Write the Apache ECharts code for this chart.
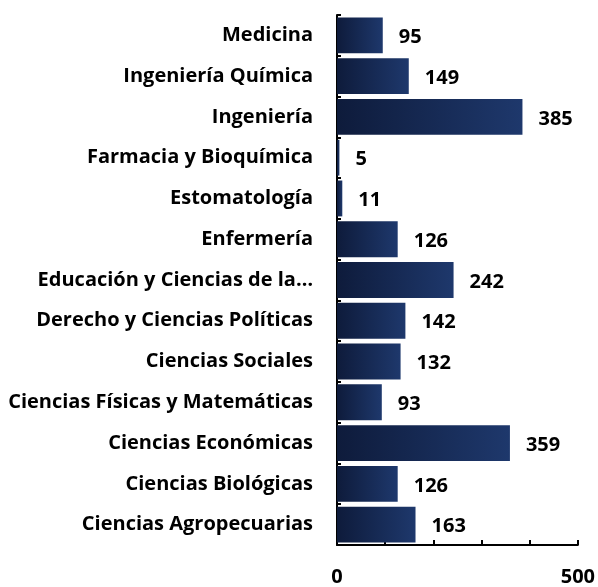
<!DOCTYPE html>
<html>
<head>
<meta charset="utf-8">
<script src="https://cdn.jsdelivr.net/npm/echarts@6/dist/echarts.min.js"></script>
<style>
  html, body { margin: 0; padding: 0; background: #fff; }
  #chart { width: 598px; height: 587px; }
</style>
</head>
<body>
<div id="chart"></div>
<script>
// categories bottom -> top
const categories = [
  'Ciencias Agropecuarias',
  'Ciencias Biológicas',
  'Ciencias Económicas',
  'Ciencias Físicas y Matemáticas',
  'Ciencias Sociales',
  'Derecho y Ciencias Políticas',
  'Educación y Ciencias de la…',
  'Enfermería',
  'Estomatología',
  'Farmacia y Bioquímica',
  'Ingeniería',
  'Ingeniería Química',
  'Medicina'
]
const values = [163, 126, 359, 93, 132, 142, 242, 126, 11, 5, 385, 149, 95]

const chart = echarts.init(document.getElementById('chart'))
const font = '"Open Sans", sans-serif'

chart.setOption({
  animation: false,
  grid: { left: 337, right: 20, top: 15, bottom: 41 },
  xAxis: {
    type: 'value',
    min: 0, max: 500, interval: 100,
    splitLine: { show: false },
    axisLine: { show: true, lineStyle: { color: '#000', width: 2 } },
    axisTick: { show: true, inside: true, length: 5, lineStyle: { color: '#000', width: 2 } },
    axisLabel: {
      margin: 22,
      color: '#000', fontSize: 20, fontWeight: 'bold', fontFamily: font,
      formatter: v => (v === 0 || v === 500) ? String(v) : ''
    }
  },
  yAxis: {
    type: 'category',
    data: categories,
    axisLine: { show: true, lineStyle: { color: '#000', width: 2 } },
    axisTick: { show: true, inside: true, length: 4, lineStyle: { color: '#000', width: 2 } },
    axisLabel: {
      margin: 24,
      color: '#000', fontSize: 20, fontWeight: 'bold', fontFamily: font
    }
  },
  series: [{
    type: 'bar',
    data: values,
    barCategoryGap: '12%',
    itemStyle: {
      color: new echarts.graphic.LinearGradient(0, 0, 1, 0, [
        { offset: 0, color: '#0e1b3b' },
        { offset: 1, color: '#1e386c' }
      ])
    },
    label: {
      show: true, position: 'right', distance: 16, offset: [0, 2],
      color: '#000', fontSize: 20, fontWeight: 'bold', fontFamily: font
    }
  }]
})
</script>
</body>
</html>
